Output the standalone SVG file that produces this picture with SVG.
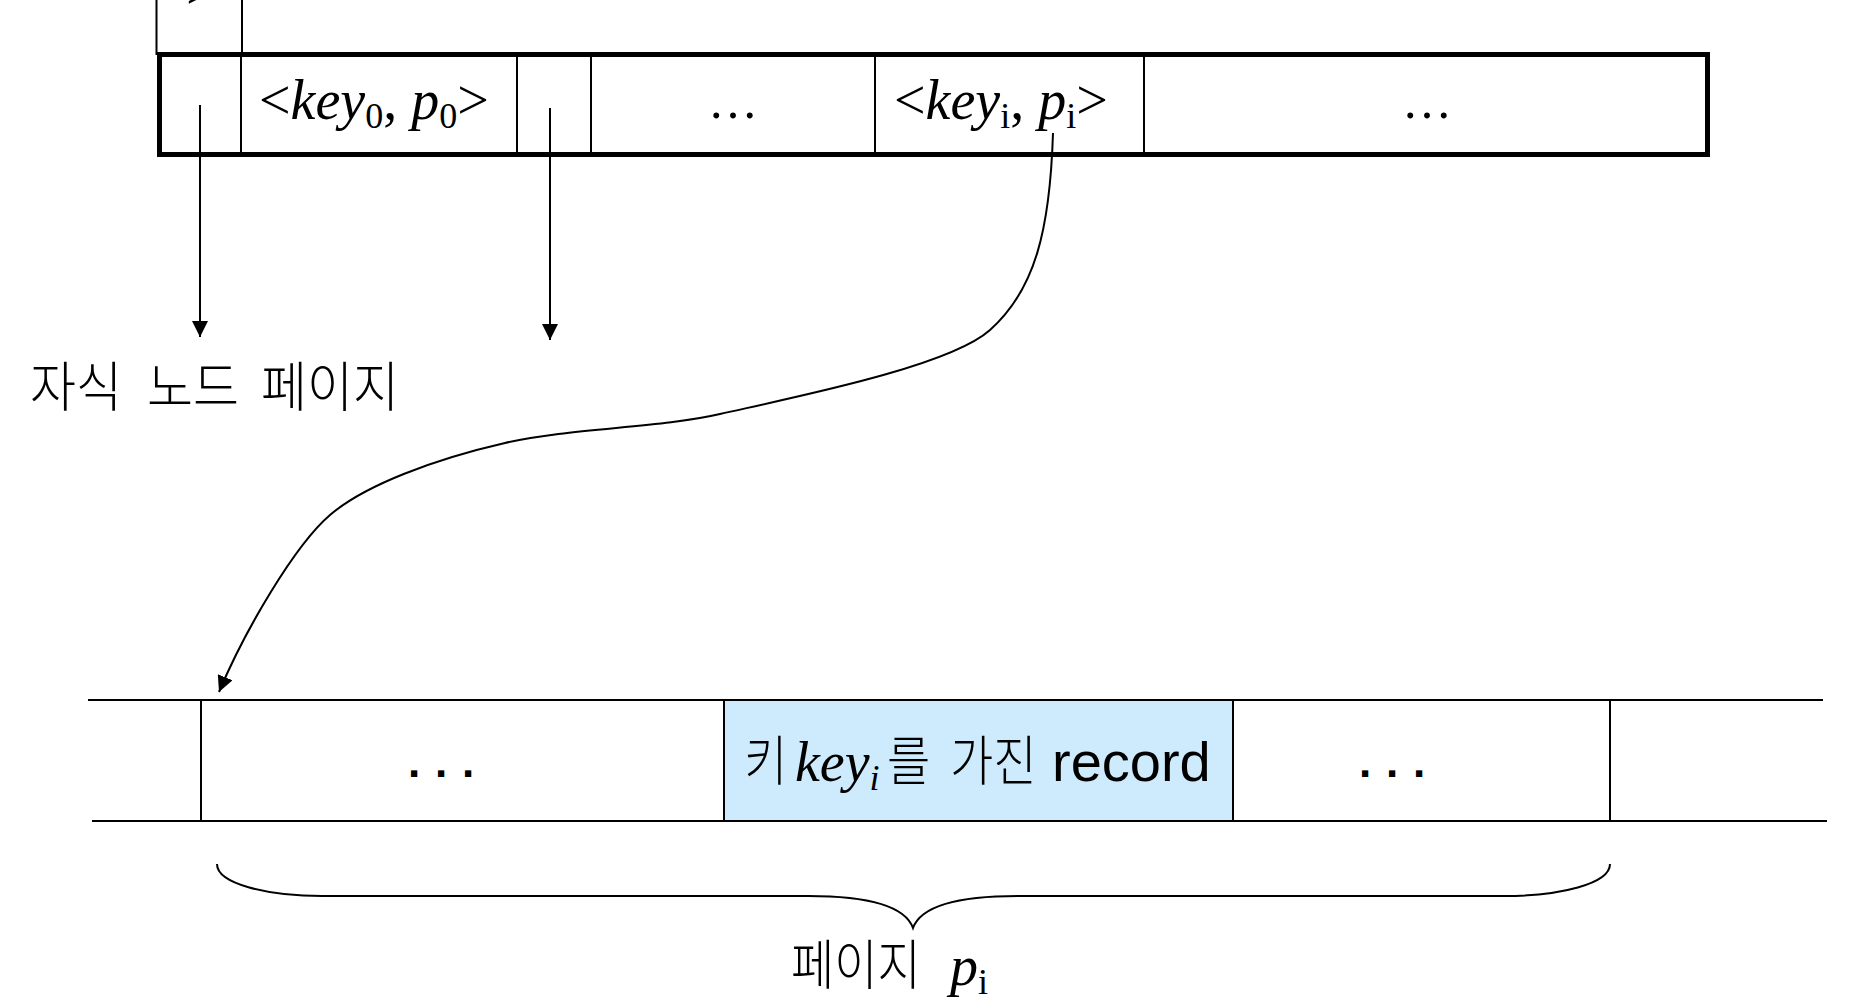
<svg xmlns="http://www.w3.org/2000/svg" width="1876" height="1000" viewBox="0 0 1876 1000">
  <style>
    .thick { fill: none; stroke: #000; stroke-width: 5; }
    .thin { fill: none; stroke: #000; stroke-width: 2; }
    .serif { font-family: "Liberation Serif", "Times New Roman", serif; font-size: 56px; fill: #000; }
    .it { font-style: italic; }
    .sub { font-size: 36px; font-style: normal; }
    .kr { font-family: "Noto Sans CJK KR", "Noto Sans", sans-serif; font-size: 47px; font-weight: 300; fill: #000; }
    .kr50 { font-size: 50px; }
    .sans { font-family: "Liberation Sans", Arial, sans-serif; fill: #000; }
    .dots { font-family: "Liberation Sans", Arial, sans-serif; font-size: 44px; font-weight: bold; letter-spacing: 14.8px; fill: #000; }
    .conn { fill: none; stroke: #000; stroke-width: 2; }
  </style>
  <defs>
    <marker id="arrow" viewBox="0 0 16 16" refX="16" refY="8" markerWidth="16" markerHeight="16" markerUnits="userSpaceOnUse" orient="auto">
      <path d="M0,0 L16,8 L0,16 z" fill="#000"/>
    </marker>
  </defs>
  <rect width="1876" height="1000" fill="#fff"/>

  <!-- previous node fragment at top-left -->
  <g id="prev-node">
    <rect x="156.5" y="-10" width="85.5" height="64" class="thin"/>
    <text x="186" y="9" class="serif">&gt;</text>
  </g>

  <!-- index node -->
  <g id="index-node">
    <path class="thin" d="M241,54 V155 M517,54 V155 M591,54 V155 M875,54 V155 M1144,54 V155"/>
    <rect x="159.5" y="54.5" width="1548" height="100" class="thick"/>
    <text x="259" y="119" class="serif"><tspan>&lt;</tspan><tspan class="it">key</tspan><tspan class="sub" dy="9">0</tspan><tspan dy="-9">, </tspan><tspan class="it">p</tspan><tspan class="sub" dy="9">0</tspan><tspan dy="-9">&gt;</tspan></text>
    <text x="733" y="118" class="serif" text-anchor="middle" style="font-size:50px">…</text>
    <text x="894" y="119" class="serif"><tspan>&lt;</tspan><tspan class="it">key</tspan><tspan class="sub" dy="9">i</tspan><tspan dy="-9">, </tspan><tspan class="it">p</tspan><tspan class="sub" dy="9">i</tspan><tspan dy="-9">&gt;</tspan></text>
    <text x="1427" y="118" class="serif" text-anchor="middle" style="font-size:50px">…</text>
  </g>

  <!-- child page label -->
  <g id="child-label">
    <text transform="translate(0,407) scale(1,1.08)" class="kr kr50"><tspan x="30" y="0">자식</tspan><tspan x="147" y="0">노드</tspan><tspan x="261" y="0">페이지</tspan></text>
  </g>

  <!-- data page -->
  <g id="data-page">
    <rect x="724" y="700" width="509" height="121" fill="#cdebfd"/>
    <path d="M88,700 H1823" fill="none" stroke="#000" stroke-width="2.2"/>
    <path d="M92,821 H1827" fill="none" stroke="#000" stroke-width="2.2"/>
    <path class="thin" d="M201,700 V821 M724,700 V821 M1233,700 V821 M1610,700 V821"/>
    <text x="408" y="777" class="dots">...</text>
    <text x="1359" y="777" class="dots">...</text>
    <text transform="translate(0,781) scale(1,1.15)" class="kr"><tspan x="744" y="0">키</tspan><tspan x="887" y="0">를</tspan><tspan x="950" y="0">가진</tspan></text>
    <text y="781" class="serif"><tspan x="795" class="it">key</tspan><tspan class="it" font-size="36" dy="9">i</tspan></text>
    <text x="1052" y="781" class="sans" font-size="56">record</text>
  </g>

  <!-- brace and page label -->
  <g id="page-brace">
    <path class="conn" d="M217,864 C217,884 268,896 322,896 L808,896 C868,896 905,906 913,928 C921,906 958,896 1018,896 L1505,896 C1559,896 1610,884 1610,864"/>
    <text transform="translate(0,985) scale(1,1.15)" class="kr"><tspan x="791" y="0">페이지</tspan></text>
    <text y="985" class="serif"><tspan x="950" class="it">p</tspan><tspan class="sub" dy="9">i</tspan></text>
  </g>

  <!-- connectors -->
  <g id="connectors">
    <path class="conn" d="M200,105 V337" marker-end="url(#arrow)"/>
    <path class="conn" d="M550,108 V340" marker-end="url(#arrow)"/>
    <path class="conn" d="M1053,133 C1050,230 1035,290 990,330 C950,366 800,396 720,414 C660,428 570,428 505,443 C435,459 365,485 330,515 C295,545 245,630 219,692" marker-end="url(#arrow)"/>
  </g>
</svg>
